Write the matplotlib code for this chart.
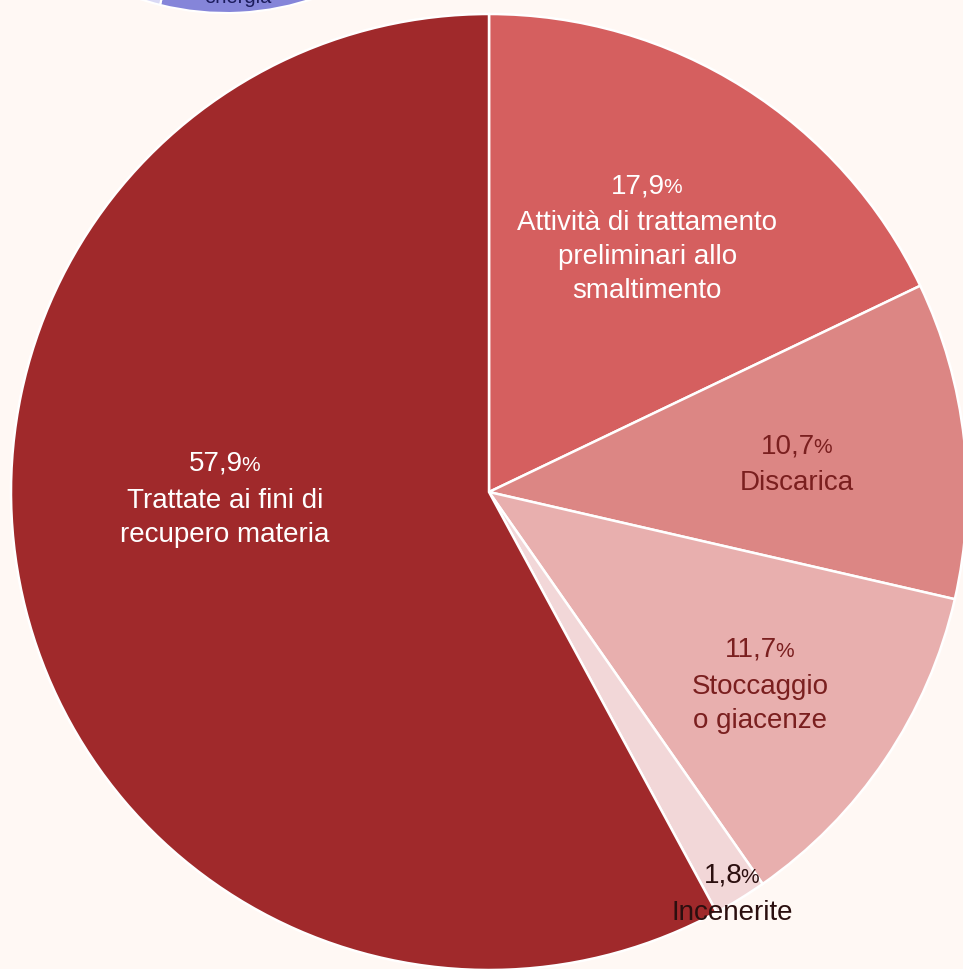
import matplotlib
matplotlib.use("Agg")
import matplotlib.pyplot as plt

# main pie: destinations of waste, clockwise from the top
labels = [
    "Attività di trattamento\npreliminari allo\nsmaltimento",
    "Discarica",
    "Stoccaggio\no giacenze",
    "Incenerite",
    "Trattate ai fini di\nrecupero materia",
]
shares = [17.9, 10.7, 11.7, 1.8, 57.9]

# partial pie above (only its bottom edge shows)
top_labels = ["Altro", "Recupero di\nenergia", "Altre destinazioni"]
top_shares = [44.5, 9.4, 46.1]

colors = ["#d55f5f", "#dc8684", "#e8afae", "#f2d7d8", "#a0292b"]
text_colors = ["white", "#7a1f1f", "#7a1f1f", "#2b0f0f", "white"]
label_pos = [(0.331, 0.642), (0.644, 0.098), (0.567, -0.328), (0.508, -0.801), (-0.552, 0.061)]
top_colors = ["#5a5ab8", "#8585d9", "#d9d9f5"]

BG = "#fff8f4"
W, H = 963, 970
CX, CY, R = 489, 477, 478

plt.rcParams["font.family"] = ["Liberation Sans", "DejaVu Sans"]

fig = plt.figure(figsize=(W / 100, H / 100), dpi=100, facecolor=BG)
ax = fig.add_axes([0, 0, 1, 1])
ax.set_facecolor(BG)

ax.pie(top_shares, colors=top_colors, startangle=90, counterclock=False,
       center=(226, H + 258), radius=272,
       wedgeprops=dict(edgecolor="white", linewidth=1.5))
ax.text(238, H - 7, top_labels[1], ha="center", va="bottom", fontsize=14.5,
        color="#1c1c5c", linespacing=1.2)

ax.pie(shares, colors=colors, startangle=90, counterclock=False,
       center=(CX, CY), radius=R,
       wedgeprops=dict(edgecolor="white", linewidth=1.8))

for share, name, tc, (fx, fy) in zip(shares, labels, text_colors, label_pos):
    x = CX + fx * R
    y = CY + fy * R
    num = ax.text(x - 9, y, f"{share:.1f}".replace(".", ","), ha="center", va="center",
                  fontsize=20, color=tc)
    ax.annotate("%", xy=(1, 0), xycoords=num, xytext=(-1.2, 1.2), textcoords="offset points",
                ha="left", va="bottom", fontsize=15, color=tc)
    ax.text(x, y - 24, name, ha="center", va="top", fontsize=20, color=tc,
            linespacing=1.4)

ax.set_xlim(0, W)
ax.set_ylim(0, H)
ax.set_aspect("equal")
ax.axis("off")

fig.savefig("out.png", dpi=100, facecolor=BG)
